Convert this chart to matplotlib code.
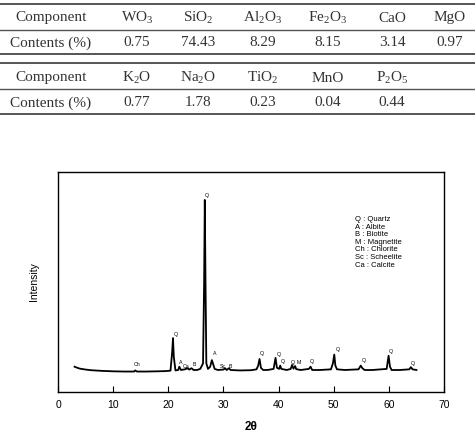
"""Chemical composition table and XRD pattern of the ore sample."""

import matplotlib

matplotlib.use("Agg")
import matplotlib.pyplot as plt
from matplotlib.lines import Line2D

plt.rcParams["mathtext.fontset"] = "custom"
plt.rcParams["mathtext.rm"] = "Liberation Serif"
plt.rcParams["mathtext.it"] = "Liberation Serif:italic"

# composition table
components_1 = ["WO$_3$", "SiO$_2$", "Al$_2$O$_3$", "Fe$_2$O$_3$", "CaO", "MgO"]
contents_1 = ["0.75", "74.43", "8.29", "8.15", "3.14", "0.97"]
components_2 = ["K$_2$O", "Na$_2$O", "TiO$_2$", "MnO", "P$_2$O$_5$"]
contents_2 = ["0.77", "1.78", "0.23", "0.04", "0.44"]

# XRD trace (2theta, relative intensity)
two_theta = [
    3.0, 3.5, 4.0, 5.0, 6.0, 8.0, 10.0, 12.0, 13.8, 14.0, 14.3, 16.0, 18.0, 19.5,
    20.4, 20.7, 20.85, 21.0, 21.3, 21.8, 22.0, 22.3, 23.0, 23.5, 23.8, 24.2, 24.6,
    25.2, 25.8, 26.3, 26.5, 26.62, 26.75, 26.9, 27.2, 27.6, 27.9, 28.1, 28.4, 29.0,
    30.0, 30.3, 30.6, 31.0, 31.3, 33.0, 35.0, 36.0, 36.3, 36.55, 36.8, 37.2, 38.0,
    39.1, 39.45, 39.7, 40.1, 40.3, 40.5, 41.5, 42.2, 42.45, 42.7, 43.0, 43.2, 44.0,
    45.5, 45.8, 46.1, 47.5, 49.5, 49.85, 50.1, 50.3, 50.6, 52.0, 54.5, 54.9, 55.2,
    55.6, 57.0, 59.6, 59.95, 60.2, 60.5, 62.0, 63.7, 64.0, 64.3, 65.0,
]
intensity = [
    11.5, 11.0, 10.6, 10.2, 9.9, 9.6, 9.4, 9.3, 9.3, 9.8, 9.3, 9.3, 9.4, 9.5,
    9.7, 18.0, 24.5, 16.0, 9.8, 10.0, 11.5, 10.0, 10.3, 10.8, 10.2, 10.8, 10.0,
    10.0, 10.5, 13.0, 50.0, 87.3, 50.0, 13.0, 10.5, 11.5, 14.5, 13.0, 10.5, 10.0,
    10.2, 10.8, 10.0, 10.8, 10.0, 9.8, 9.9, 10.3, 12.0, 15.0, 11.0, 10.0, 10.0,
    10.5, 15.5, 11.0, 10.5, 12.0, 10.5, 10.0, 10.5, 12.3, 10.6, 11.8, 10.4, 10.0,
    10.5, 11.5, 10.0, 10.0, 10.3, 13.0, 17.0, 12.0, 10.3, 10.0, 10.3, 12.0, 10.8,
    10.0, 10.0, 10.5, 16.5, 11.5, 10.0, 10.0, 10.3, 11.3, 10.3, 10.0,
]

# phase labels above the peaks
peak_labels = ["Ch", "Q", "A", "Ca", "B", "Q", "A", "Sc", "B", "Q", "Q", "Q",
               "Q", "M", "Q", "Q", "Q", "Q", "Q"]
label_x = [14.4, 21.3, 22.3, 23.2, 24.7, 27.0, 28.4, 29.9, 31.2, 37.0, 40.0,
           40.8, 42.6, 43.6, 46.1, 50.7, 55.4, 60.4, 64.4]
label_y = [12.3, 26.0, 13.6, 11.4, 12.3, 89.5, 17.3, 11.5, 11.8, 17.5, 17.2,
           14.0, 13.5, 13.2, 13.9, 19.5, 14.4, 18.2, 12.9]

phase_key = ["Q : Quartz", "A : Albite", "B : Biotite", "M : Magnetite",
             "Ch : Chlorite", "Sc : Scheelite", "Ca : Calcite"]

W, H = 475, 434
fig = plt.figure(figsize=(W / 100, H / 100), dpi=100)


def fx(px):
    return px / W


def fy(py):
    return 1 - py / H


def hline(py, lw=1.0, color="#555555"):
    fig.add_artist(Line2D([0, 1], [fy(py), fy(py)], transform=fig.transFigure,
                          color=color, linewidth=lw))


col_x = [51, 137, 198, 263, 328, 392, 450]
serif = dict(family="Liberation Serif", fontsize=11, ha="center", va="center",
             color="#333333")

for py, lw in [(4, 1.4), (30, 1.0), (54, 1.4), (63, 1.4), (89, 1.0), (114, 1.4)]:
    hline(py, lw)

fig.text(fx(col_x[0]), fy(18), "Component", **serif)
fig.text(fx(col_x[0]), fy(43), "Contents (%)", **serif)
for x, c, v in zip(col_x[1:], components_1, contents_1):
    fig.text(fx(x), fy(18), c, **serif)
    fig.text(fx(x), fy(43), v, **serif)

fig.text(fx(col_x[0]), fy(78), "Component", **serif)
fig.text(fx(col_x[0]), fy(103), "Contents (%)", **serif)
for x, c, v in zip(col_x[1:], components_2, contents_2):
    fig.text(fx(x), fy(78), c, **serif)
    fig.text(fx(x), fy(103), v, **serif)

# XRD panel
ax = fig.add_axes([fx(58), fy(392), fx(444) - fx(58), fy(172) - fy(392)])
ax.plot(two_theta, intensity, color="black", linewidth=1.3)
for lab, x, y in zip(peak_labels, label_x, label_y):
    ax.text(x, y, lab, fontsize=3.8, family="Liberation Sans",
            ha="center", va="center")

ax.text(53.9, 80, "\n".join(phase_key), fontsize=5.5, family="Liberation Sans",
        ha="left", va="top", linespacing=1.12)

ax.set_xlim(0, 70)
ax.set_ylim(0, 100)
ax.set_xticks(range(0, 71, 10))
ax.set_yticks([])
ax.tick_params(axis="x", direction="in", length=4, width=0.8, pad=6,
               labelsize=7.5)
for lab in ax.get_xticklabels():
    lab.set_family("Liberation Sans")
for s in ax.spines.values():
    s.set_linewidth(1.0)

ax.set_xlabel("2θ", fontsize=8.5, fontweight="bold", family="Liberation Sans",
              labelpad=8)
ax.set_ylabel("Intensity", fontsize=7.5, family="Liberation Sans", labelpad=14)

fig.savefig("out.png", dpi=100)
